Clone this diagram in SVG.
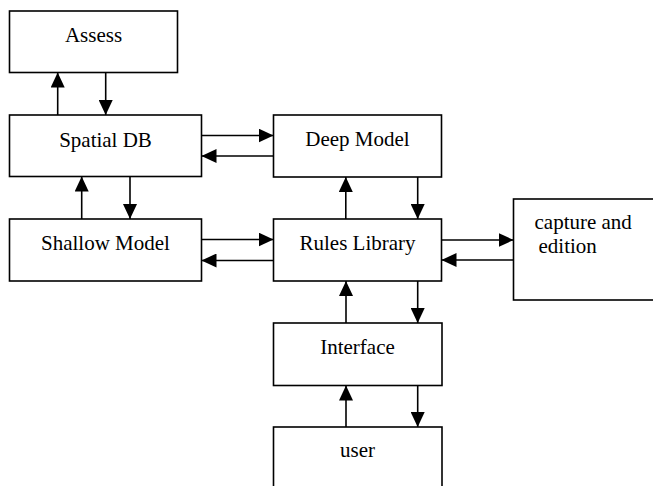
<svg xmlns="http://www.w3.org/2000/svg" width="653" height="486" viewBox="0 0 653 486">
<defs>
<marker id="ah" viewBox="0 0 15 14" refX="15" refY="7" markerWidth="15" markerHeight="14" markerUnits="userSpaceOnUse" orient="auto">
<path d="M0,0 L15,7 L0,14 Z" fill="#000"/>
</marker>
</defs>
<style>
.box{fill:#fff;stroke:#000;stroke-width:1.6}
.t{font-family:'Liberation Serif','Times New Roman',Times,'DejaVu Serif',serif;font-size:21px;fill:#000}
.c{text-anchor:middle}
#connectors line{stroke:#000;stroke-width:1.6;marker-end:url(#ah)}
</style>
<rect width="653" height="486" fill="#fff"/>
<g id="assess"><rect class="box" x="9.5" y="11" width="168" height="61.5"/><text class="t c" x="93.5" y="42">Assess</text></g>
<g id="spatial-db"><rect class="box" x="9.5" y="115" width="192" height="61.5"/><text class="t c" x="105.5" y="146.5">Spatial DB</text></g>
<g id="deep-model"><rect class="box" x="273.5" y="115" width="168" height="62"/><text class="t c" x="357.5" y="146">Deep Model</text></g>
<g id="shallow-model"><rect class="box" x="9.5" y="219" width="192" height="62"/><text class="t c" x="105.5" y="250">Shallow Model</text></g>
<g id="rules-library"><rect class="box" x="273.5" y="219" width="168" height="62"/><text class="t c" x="357.5" y="250">Rules Library</text></g>
<g id="capture-edition"><rect class="box" x="513.5" y="199" width="150" height="101"/><text class="t" x="534.5" y="228.5">capture and</text><text class="t" x="538.5" y="252.5">edition</text></g>
<g id="interface"><rect class="box" x="273.5" y="323" width="168.5" height="62.5"/><text class="t c" x="357.5" y="353.5">Interface</text></g>
<g id="user"><rect class="box" x="273.5" y="427" width="168.5" height="80"/><text class="t c" x="357.5" y="456.5">user</text></g>
<g id="connectors">
<line x1="57.7" y1="115" x2="57.7" y2="72.5"/>
<line x1="105.7" y1="72.5" x2="105.7" y2="115"/>
<line x1="81.7" y1="219" x2="81.7" y2="176.5"/>
<line x1="130" y1="176.5" x2="130" y2="219"/>
<line x1="201.5" y1="135.5" x2="273.5" y2="135.5"/>
<line x1="273.5" y1="156" x2="201.5" y2="156"/>
<line x1="201.5" y1="239.5" x2="273.5" y2="239.5"/>
<line x1="273.5" y1="260.5" x2="201.5" y2="260.5"/>
<line x1="345.8" y1="219" x2="345.8" y2="177"/>
<line x1="417.7" y1="177" x2="417.7" y2="219"/>
<line x1="441.5" y1="240" x2="513.5" y2="240"/>
<line x1="513.5" y1="260" x2="441.5" y2="260"/>
<line x1="346" y1="323" x2="346" y2="281"/>
<line x1="417.7" y1="281" x2="417.7" y2="323"/>
<line x1="346" y1="427" x2="346" y2="385.5"/>
<line x1="417.7" y1="385.5" x2="417.7" y2="427"/>
</g>
</svg>
